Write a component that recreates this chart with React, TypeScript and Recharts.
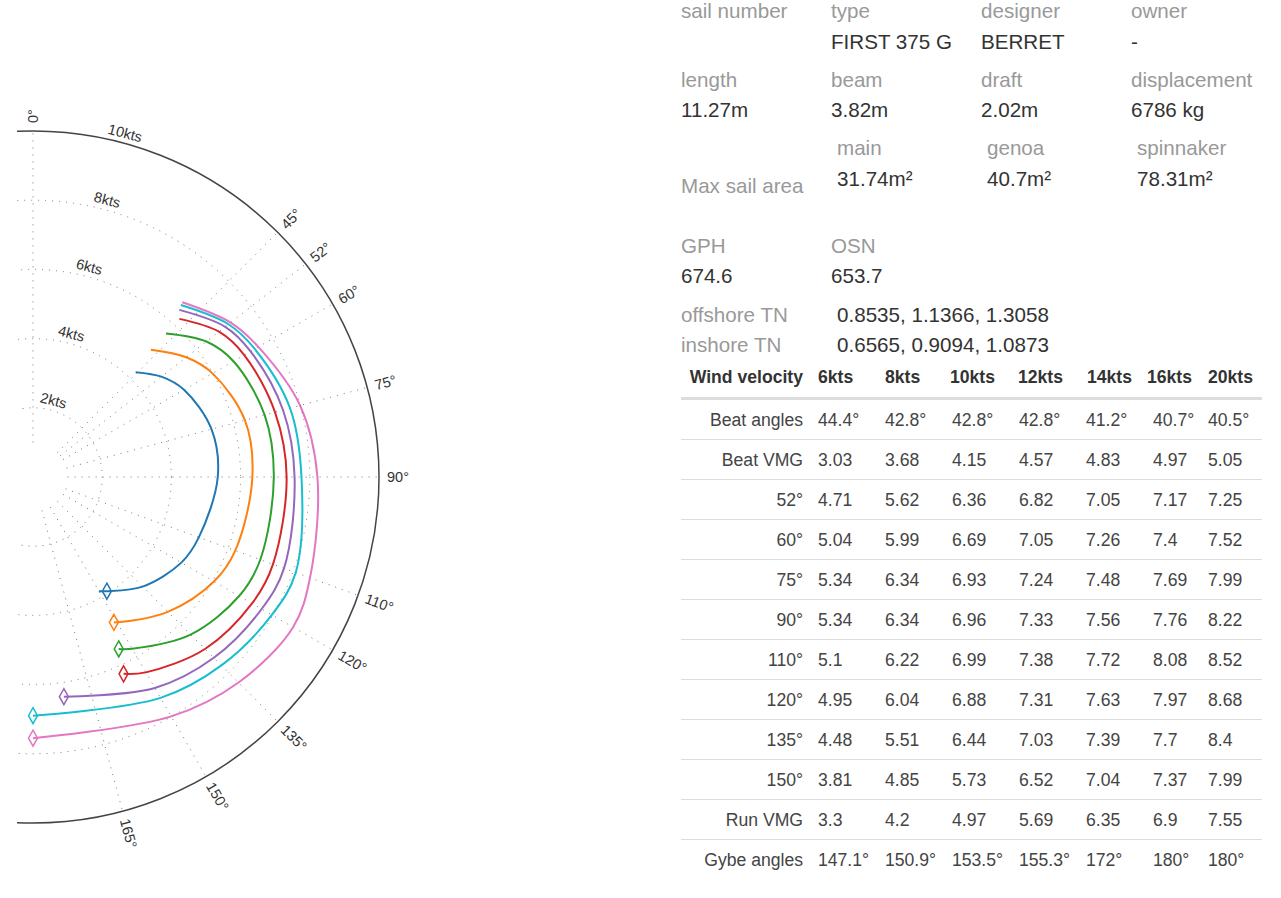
import React from "react";
import { ComposedChart, Line, Scatter, XAxis, YAxis, ReferenceDot, ReferenceLine } from "recharts";

// polar data per wind speed (table values)
const windSpeeds = [6, 8, 10, 12, 14, 16, 20];
const colors = ["#1f77b4", "#ff7f0e", "#2ca02c", "#d62728", "#9467bd", "#17becf", "#e377c2"];
const beatAngles = [44.4, 42.8, 42.8, 42.8, 41.2, 40.7, 40.5];
const beatVMG = [3.03, 3.68, 4.15, 4.57, 4.83, 4.97, 5.05];
const twa = [52, 60, 75, 90, 110, 120, 135, 150];
const speed52 = [4.71, 5.62, 6.36, 6.82, 7.05, 7.17, 7.25];
const speed60 = [5.04, 5.99, 6.69, 7.05, 7.26, 7.4, 7.52];
const speed75 = [5.34, 6.34, 6.93, 7.24, 7.48, 7.69, 7.99];
const speed90 = [5.34, 6.34, 6.96, 7.33, 7.56, 7.76, 8.22];
const speed110 = [5.1, 6.22, 6.99, 7.38, 7.72, 8.08, 8.52];
const speed120 = [4.95, 6.04, 6.88, 7.31, 7.63, 7.97, 8.68];
const speed135 = [4.48, 5.51, 6.44, 7.03, 7.39, 7.7, 8.4];
const speed150 = [3.81, 4.85, 5.73, 6.52, 7.04, 7.37, 7.99];
const runVMG = [3.3, 4.2, 4.97, 5.69, 6.35, 6.9, 7.55];
const gybeAngles = [147.1, 150.9, 153.5, 155.3, 172, 180, 180];
const speedsByAngle = [speed52, speed60, speed75, speed90, speed110, speed120, speed135, speed150];

const speedRings = [2, 4, 6, 8];
const gridAngles = [0, 45, 52, 60, 75, 90, 110, 120, 135, 150, 165];

// chart geometry
const W = 640;
const H = 870;
const PX = 34.6; // px per knot
const CX = 16;
const CY = 469;
const xDomain = [-CX / PX, (W - CX) / PX];
const yDomain = [-(H - CY) / PX, CY / PX];

const rad = (a: number) => (a * Math.PI) / 180;
const toXY = (a: number, s: number) => ({ x: s * Math.sin(rad(a)), y: s * Math.cos(rad(a)) });

const series = windSpeeds.map((w, i) => {
  const gybe = { a: gybeAngles[i], s: runVMG[i] / Math.cos(rad(180 - gybeAngles[i])) };
  const pts = [
    { a: beatAngles[i], s: beatVMG[i] / Math.cos(rad(beatAngles[i])) },
    ...twa.map((a, k) => ({ a, s: speedsByAngle[k][i] })),
    gybe,
  ].sort((p, q) => p.a - q.a);
  return {
    wind: w,
    color: colors[i],
    points: pts.map((p) => toXY(p.a, p.s)),
    gybe: [toXY(gybe.a, gybe.s)],
  };
});

// centripetal catmull-rom, same as d3.curveCatmullRom
function catmullRom(ctx: any) {
  let pts: number[][] = [];
  return {
    areaStart() {},
    areaEnd() {},
    lineStart() {
      pts = [];
    },
    point(x: number, y: number) {
      pts.push([+x, +y]);
    },
    lineEnd() {
      const n = pts.length;
      if (!n) return;
      ctx.moveTo(pts[0][0], pts[0][1]);
      const d = (p: number[], q: number[]) => Math.sqrt(Math.hypot(p[0] - q[0], p[1] - q[1]));
      for (let i = 0; i < n - 1; i++) {
        const p0 = pts[i - 1];
        const p1 = pts[i];
        const p2 = pts[i + 1];
        const p3 = pts[i + 2];
        const l12 = d(p1, p2);
        let c1x = p1[0], c1y = p1[1], c2x = p2[0], c2y = p2[1];
        if (p0) {
          const l01 = d(p0, p1);
          if (l01 > 1e-6) {
            const a = 2 * l01 * l01 + 3 * l01 * l12 + l12 * l12;
            const m = 3 * l01 * (l01 + l12);
            c1x = (p1[0] * a - p0[0] * l12 * l12 + p2[0] * l01 * l01) / m;
            c1y = (p1[1] * a - p0[1] * l12 * l12 + p2[1] * l01 * l01) / m;
          }
        }
        if (p3) {
          const l23 = d(p2, p3);
          if (l23 > 1e-6) {
            const b = 2 * l23 * l23 + 3 * l23 * l12 + l12 * l12;
            const m = 3 * l23 * (l23 + l12);
            c2x = (p2[0] * b + p1[0] * l23 * l23 - p3[0] * l12 * l12) / m;
            c2y = (p2[1] * b + p1[1] * l23 * l23 - p3[1] * l12 * l12) / m;
          }
        }
        ctx.bezierCurveTo(c1x, c1y, c2x, c2y, p2[0], p2[1]);
      }
    },
  };
}

const diamond = (color: string) => (p: any) => (
  <path
    d={`M${p.cx},${p.cy - 8}L${p.cx + 4.5},${p.cy}L${p.cx},${p.cy + 8}L${p.cx - 4.5},${p.cy}Z`}
    fill="none"
    stroke={color}
    strokeWidth={1.5}
  />
);

const labelFont = { fontFamily: '"Liberation Sans", Arial, sans-serif', fontSize: 14.5, fill: "#333" };

function PolarChart() {
  return (
    <ComposedChart width={W} height={H} margin={{ top: 0, right: 0, bottom: 0, left: 0 }}>
      <XAxis type="number" dataKey="x" domain={xDomain} allowDataOverflow hide />
      <YAxis type="number" dataKey="y" domain={yDomain} allowDataOverflow hide />
      {speedRings.map((s) => (
        <ReferenceDot
          key={"ring" + s}
          x={0}
          y={0}
          r={s * PX}
          fill="none"
          stroke="#777"
          strokeDasharray="1 6"
          ifOverflow="hidden"
        />
      ))}
      {gridAngles.map((a) => {
        const p1 = toXY(a, 1);
        const p2 = toXY(a, 10);
        return (
          <ReferenceLine
            key={"ray" + a}
            segment={[p1, p2]}
            stroke="#777"
            strokeDasharray="1 6"
            ifOverflow="hidden"
          />
        );
      })}
      <ReferenceDot x={0} y={0} r={10 * PX} fill="none" stroke="#444" strokeWidth={1.5} ifOverflow="hidden" />
      {gridAngles.map((a) => {
        const p = toXY(a, 10 + 8 / PX);
        return (
          <ReferenceDot
            key={"al" + a}
            x={p.x}
            y={p.y}
            r={0}
            ifOverflow="visible"
            shape={(d: any) => (
              <text
                x={d.cx}
                y={d.cy}
                dy="0.35em"
                textAnchor="start"
                transform={`rotate(${a - 90},${d.cx},${d.cy})`}
                {...labelFont}
              >
                {a}°
              </text>
            )}
          />
        );
      })}
      {[...speedRings, 10].map((s) => {
        const p = toXY(15, s + 5 / PX);
        return (
          <ReferenceDot
            key={"sl" + s}
            x={p.x}
            y={p.y}
            r={0}
            ifOverflow="visible"
            shape={(d: any) => (
              <text
                x={d.cx}
                y={d.cy}
                textAnchor="middle"
                transform={`rotate(15,${d.cx},${d.cy})`}
                {...labelFont}
              >
                {s}kts
              </text>
            )}
          />
        );
      })}
      {series.map((s) => (
        <Line
          key={"l" + s.wind}
          data={s.points}
          dataKey="y"
          type={catmullRom as any}
          stroke={s.color}
          strokeWidth={2}
          dot={false}
          activeDot={false}
          isAnimationActive={false}
        />
      ))}
      {series.map((s) => (
        <Scatter
          key={"g" + s.wind}
          data={s.gybe}
          dataKey="y"
          shape={diamond(s.color)}
          isAnimationActive={false}
        />
      ))}
    </ComposedChart>
  );
}

// boat details
const infoLabels = [
  { t: "sail number", x: 681, b: 18 },
  { t: "type", x: 831, b: 18 },
  { t: "designer", x: 981, b: 18 },
  { t: "owner", x: 1131, b: 18 },
  { t: "length", x: 681, b: 87 },
  { t: "beam", x: 831, b: 87 },
  { t: "draft", x: 981, b: 87 },
  { t: "displacement", x: 1131, b: 87 },
  { t: "main", x: 837, b: 155 },
  { t: "genoa", x: 987, b: 155 },
  { t: "spinnaker", x: 1137, b: 155 },
  { t: "Max sail area", x: 681, b: 193 },
  { t: "GPH", x: 681, b: 253 },
  { t: "OSN", x: 831, b: 253 },
  { t: "offshore TN", x: 681, b: 322 },
  { t: "inshore TN", x: 681, b: 352 },
];
const infoValues = [
  { t: "FIRST 375 G", x: 831, b: 49 },
  { t: "BERRET", x: 981, b: 49 },
  { t: "-", x: 1131, b: 49 },
  { t: "11.27m", x: 681, b: 117 },
  { t: "3.82m", x: 831, b: 117 },
  { t: "2.02m", x: 981, b: 117 },
  { t: "6786 kg", x: 1131, b: 117 },
  { t: "31.74m²", x: 837, b: 186 },
  { t: "40.7m²", x: 987, b: 186 },
  { t: "78.31m²", x: 1137, b: 186 },
  { t: "674.6", x: 681, b: 283 },
  { t: "653.7", x: 831, b: 283 },
  { t: "0.8535, 1.1366, 1.3058", x: 837, b: 322 },
  { t: "0.6565, 0.9094, 1.0873", x: 837, b: 352 },
];

const colLeft = [818, 885, 952, 1019, 1086, 1153, 1208];
const headLeft = [818, 885, 950, 1018, 1087, 1147, 1208];

const fmt = (v: number, deg?: boolean) => String(v) + (deg ? "°" : "");
const tableRows = [
  { label: "Beat angles", vals: beatAngles.map((v) => fmt(v, true)) },
  { label: "Beat VMG", vals: beatVMG.map((v) => fmt(v)) },
  ...twa.map((a, k) => ({ label: a + "°", vals: speedsByAngle[k].map((v) => fmt(v)) })),
  { label: "Run VMG", vals: runVMG.map((v) => fmt(v)) },
  { label: "Gybe angles", vals: gybeAngles.map((v) => fmt(v, true)) },
];

function Row({ top, label, vals, header, last }: any) {
  const cols = header ? headLeft : colLeft;
  return (
    <div
      style={{
        position: "absolute",
        left: 681,
        top,
        width: 1262 - 681,
        height: header ? 43 : 40,
        boxSizing: "border-box",
        borderBottom: last ? "none" : header ? "3px solid #ddd" : "1px solid #ddd",
        fontSize: 17.6,
        lineHeight: "40px",
        fontWeight: header ? "bold" : "normal",
        color: header ? "#333" : "#444",
        whiteSpace: "nowrap",
      }}
    >
      <div style={{ position: "absolute", left: 0, width: 803 - 681, textAlign: "right" }}>{label}</div>
      {vals.map((v: string, i: number) => (
        <div key={i} style={{ position: "absolute", left: cols[i] - 681 }}>
          {v}
        </div>
      ))}
    </div>
  );
}

const textAt = (x: number, b: number, color: string): React.CSSProperties => ({
  position: "absolute",
  left: x,
  top: b - 19.1,
  lineHeight: "24px",
  fontSize: 20.6,
  color,
  whiteSpace: "nowrap",
});

export default function App() {
  return (
    <div
      style={{
        position: "relative",
        width: 1281,
        height: 898,
        overflow: "hidden",
        fontFamily: '"Liberation Sans", Arial, sans-serif',
      }}
    >
      <style>{"body{margin:0}"}</style>
      <div style={{ position: "absolute", left: 17, top: 8 }}>
        <PolarChart />
      </div>
      {infoLabels.map((l, i) => (
        <div key={"il" + i} style={textAt(l.x, l.b, "#999")}>
          {l.t}
        </div>
      ))}
      {infoValues.map((l, i) => (
        <div key={"iv" + i} style={textAt(l.x, l.b, "#333")}>
          {l.t}
        </div>
      ))}
      <Row top={357} label="Wind velocity" vals={windSpeeds.map((w) => w + "kts")} header />
      {tableRows.map((r, k) => (
        <Row key={r.label} top={400 + 40 * k} label={r.label} vals={r.vals} last={k === tableRows.length - 1} />
      ))}
    </div>
  );
}
